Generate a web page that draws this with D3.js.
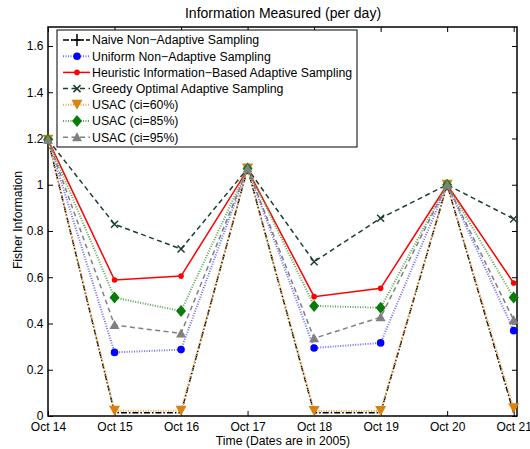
<!DOCTYPE html>
<html><head><meta charset="utf-8">
<script src="https://cdn.jsdelivr.net/npm/d3@7"></script>
<style>body{margin:0;background:#fff}svg{display:block;font-family:"Liberation Sans",Arial,sans-serif}</style>
</head><body><svg id="c" width="530" height="449"></svg>
<script>
const dates = ["Oct 14","Oct 15","Oct 16","Oct 17","Oct 18","Oct 19","Oct 20","Oct 21"];
const yTicks = [0,0.2,0.4,0.6,0.8,1,1.2,1.4,1.6];
const naive     = [1.195,0.014,0.014,1.07,0.014,0.014,1.0,0.014];
const uniform   = [1.195,0.275,0.287,1.07,0.294,0.316,1.0,0.369];
const heuristic = [1.195,0.588,0.605,1.065,0.516,0.552,1.0,0.575];
const greedy    = [1.195,0.829,0.722,1.07,0.667,0.855,1.0,0.852];
const usac60    = [1.195,0.023,0.023,1.07,0.022,0.022,1.0,0.033];
const usac85    = [1.195,0.512,0.454,1.07,0.476,0.468,1.0,0.512];
const usac95    = [1.195,0.393,0.357,1.07,0.336,0.427,1.0,0.415];
const names = ["Naive Non\u2212Adaptive Sampling","Uniform Non\u2212Adaptive Sampling","Heuristic Information\u2212Based Adaptive Sampling","Greedy Optimal Adaptive Sampling","USAC (ci=60%)","USAC (ci=85%)","USAC (ci=95%)"];

const series = [
  {name:names[0], v:naive, color:"#000", dash:"6,2,1.5,2", w:1.5, marker:"plus", mc:"#000"},
  {name:names[1], v:uniform, color:"#6f6ff5", dash:"1,1.5", w:2, marker:"circle", mc:"#0000ff", r:3.8},
  {name:names[2], v:heuristic, color:"#ff0000", dash:null, w:1.5, marker:"circle", mc:"#ff0000", r:2.8},
  {name:names[3], v:greedy, color:"#1b3f2f", dash:"5,3.5", w:1.5, marker:"x", mc:"#1b3f2f"},
  {name:names[4], v:usac60, color:"#f0a850", dash:"1,1.5", w:2, marker:"tridown", mc:"#d9820f"},
  {name:names[5], v:usac85, color:"#56a856", dash:"1,1.5", w:2, marker:"diamond", mc:"#0a7a0a"},
  {name:names[6], v:usac95, color:"#808080", dash:"5,3.5", w:1.5, marker:"triup", mc:"#808080"}
];

const svg = d3.select("#c");
const L=48, R=517, T=27, B=416;
const x = d3.scaleLinear().domain([0,7.05]).range([L,R]);
const y = d3.scaleLinear().domain([0,1.682]).range([B,T]);

// title & labels
svg.append("text").attr("x",283).attr("y",18).attr("text-anchor","middle").attr("font-size",14).text("Information Measured (per day)");
svg.append("text").attr("x",283).attr("y",444.5).attr("text-anchor","middle").attr("font-size",12.2).text("Time (Dates are in 2005)");
svg.append("text").attr("transform","translate(21.5,220) rotate(-90)").attr("text-anchor","middle").attr("font-size",12.2).text("Fisher Information");

// axes
const gx = svg.append("g").attr("transform",`translate(0,${B})`)
  .call(d3.axisBottom(x).tickValues(d3.range(dates.length)).tickFormat((d,i)=>dates[i]).tickSize(-5));
const gxt = svg.append("g").attr("transform",`translate(0,${T})`)
  .call(d3.axisTop(x).tickValues(d3.range(dates.length)).tickFormat("").tickSize(-5));
const gy = svg.append("g").attr("transform",`translate(${L},0)`)
  .call(d3.axisLeft(y).tickValues(yTicks).tickFormat(d=>d3.format("")(+d.toFixed(1))).tickSize(-5).tickPadding(4.5));
const gyr = svg.append("g").attr("transform",`translate(${R},0)`)
  .call(d3.axisRight(y).tickValues(yTicks).tickFormat("").tickSize(-5));
[gx,gxt,gy,gyr].forEach(g=>{
  g.select(".domain").remove();
  g.selectAll("line").attr("stroke","#000").attr("stroke-width",1);
  g.selectAll("text").attr("font-size",12).attr("font-family","Liberation Sans, Arial, sans-serif").attr("fill","#000");
});
gx.selectAll("text").attr("y",14.5).attr("dy",null);
svg.append("rect").attr("x",L).attr("y",T).attr("width",R-L).attr("height",B-T).attr("fill","none").attr("stroke","#000").attr("stroke-width",1.5);

function drawMarker(g, type, cx, cy, s){
  const c = s.mc;
  if(type==="circle") g.append("circle").attr("cx",cx).attr("cy",cy).attr("r",s.r).attr("fill",c);
  else if(type==="plus") g.append("path").attr("d",`M${cx-6},${cy}H${cx+6}M${cx},${cy-6}V${cy+6}`).attr("stroke",c).attr("stroke-width",1.5);
  else if(type==="x") g.append("path").attr("d",`M${cx-3.5},${cy-3.5}L${cx+3.5},${cy+3.5}M${cx-3.5},${cy+3.5}L${cx+3.5},${cy-3.5}`).attr("stroke",c).attr("stroke-width",1.5);
  else if(type==="tridown") g.append("path").attr("d",`M${cx-5.5},${cy-5}L${cx+5.5},${cy-5}L${cx},${cy+5}Z`).attr("fill",c);
  else if(type==="triup") g.append("path").attr("d",`M${cx-5},${cy+4}L${cx+5},${cy+4}L${cx},${cy-5}Z`).attr("fill",c);
  else if(type==="diamond") g.append("path").attr("d",`M${cx},${cy-6}L${cx+5},${cy}L${cx},${cy+6}L${cx-5},${cy}Z`).attr("fill",c);
}

const line = d3.line().x((d,i)=>x(i)).y(d=>y(d));
const plot = svg.append("g");
series.forEach(s=>{
  const g = plot.append("g");
  g.append("path").attr("d",line(s.v)).attr("fill","none").attr("stroke",s.color).attr("stroke-width",s.w)
    .attr("stroke-dasharray",s.dash);
  if(s.marker!=="plus") s.v.forEach((v,i)=>drawMarker(g,s.marker,x(i),y(v),s));
});

// legend
const lg = svg.append("g");
lg.append("rect").attr("x",57).attr("y",30).attr("width",300).attr("height",117).attr("fill","#fff").attr("stroke","#000").attr("stroke-width",1);
series.forEach((s,i)=>{
  const yy = 40 + i*16.2;
  lg.append("path").attr("d",`M63,${yy}H90`).attr("stroke",s.color).attr("stroke-width",s.w).attr("stroke-dasharray",s.dash).attr("fill","none");
  drawMarker(lg,s.marker,77,yy,s);
  lg.append("text").attr("x",92).attr("y",yy).attr("dy","0.35em").attr("font-size",12.3).text(s.name);
});
</script></body></html>
